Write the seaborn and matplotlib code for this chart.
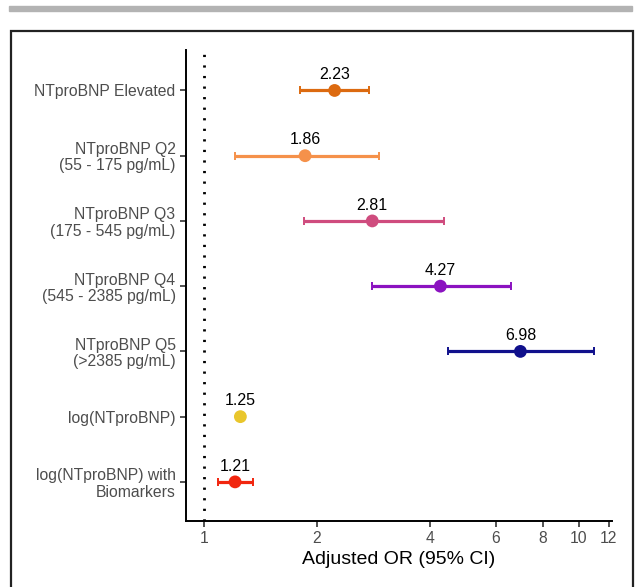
import matplotlib.pyplot as plt
import pandas as pd
import seaborn as sns
from matplotlib.patches import Rectangle
from matplotlib.ticker import FixedLocator, NullLocator

labels = [
    "NTproBNP Elevated",
    "NTproBNP Q2\n(55 - 175 pg/mL)",
    "NTproBNP Q3\n(175 - 545 pg/mL)",
    "NTproBNP Q4\n(545 - 2385 pg/mL)",
    "NTproBNP Q5\n(>2385 pg/mL)",
    "log(NTproBNP)",
    "log(NTproBNP) with\nBiomarkers",
]
odds_ratio = [2.23, 1.86, 2.81, 4.27, 6.98, 1.25, 1.21]
ci_low = [1.80, 1.21, 1.85, 2.80, 4.48, 1.25, 1.09]
ci_high = [2.75, 2.93, 4.36, 6.59, 10.96, 1.25, 1.35]
colors = ["#DC6A10", "#F5914A", "#CF4C7E", "#8B12C0", "#10108C", "#E9C62C", "#F1260F"]
x_ticks = [1, 2, 4, 6, 8, 10, 12]

df = pd.DataFrame({"label": labels, "or": odds_ratio, "lo": ci_low, "hi": ci_high})

sns.set_theme(style="white")
plt.rcParams["font.family"] = ["Liberation Sans", "DejaVu Sans"]

fig = plt.figure(figsize=(6.38, 5.87), dpi=100)
ax = fig.add_axes([0.2915, 0.1124, 0.6675, 0.8024])

# frame around the panel and grey rule at the top
fig.patches.append(Rectangle((9 / 638, 1 - 11 / 587), 623 / 638, 5 / 587,
                             transform=fig.transFigure, color="#B3B3B3", zorder=0))
fig.patches.append(Rectangle((11 / 638, -0.05), 622 / 638, 1.05 - 31 / 587,
                             transform=fig.transFigure, fill=False,
                             edgecolor="#222222", linewidth=1.6, zorder=0))

ax.axvline(1, color="black", linestyle=(0, (0.8, 3)), linewidth=2, zorder=1)

for i, row in df.iterrows():
    if row["hi"] > row["lo"]:
        ax.errorbar(row["or"], i,
                    xerr=[[row["or"] - row["lo"]], [row["hi"] - row["or"]]],
                    fmt="none", ecolor=colors[i], elinewidth=2.3,
                    capsize=3.2, capthick=1.4, zorder=2)

sns.scatterplot(data=df, x="or", y=df.index, hue="label", palette=colors,
                s=85, edgecolor="none", legend=False, ax=ax, zorder=3)

for i, row in df.iterrows():
    ax.annotate(f"{row['or']:.2f}", (row["or"], i), xytext=(0, 6),
                textcoords="offset points", ha="center", va="bottom",
                fontsize=11.5, color="black")

ax.set_xscale("log")
ax.set_xlim(0.895, 12.24)
ax.xaxis.set_major_locator(FixedLocator(x_ticks))
ax.xaxis.set_minor_locator(NullLocator())
ax.set_xticklabels([str(t) for t in x_ticks])
ax.set_ylim(6.6, -0.62)
ax.set_yticks(range(len(labels)))
ax.set_yticklabels(labels, multialignment="right", linespacing=1.1)

ax.set_xlabel("Adjusted OR (95% CI)", fontsize=14, color="black", labelpad=3)
ax.set_ylabel("")
ax.tick_params(axis="both", which="major", direction="out", length=4, width=1.2,
               colors="#333333", labelcolor="#4D4D4D", labelsize=11.3, bottom=True, left=True)

for side in ["top", "right"]:
    ax.spines[side].set_visible(False)
for side in ["left", "bottom"]:
    ax.spines[side].set_color("black")
    ax.spines[side].set_linewidth(1.4)

fig.savefig("out.png", dpi=100)
